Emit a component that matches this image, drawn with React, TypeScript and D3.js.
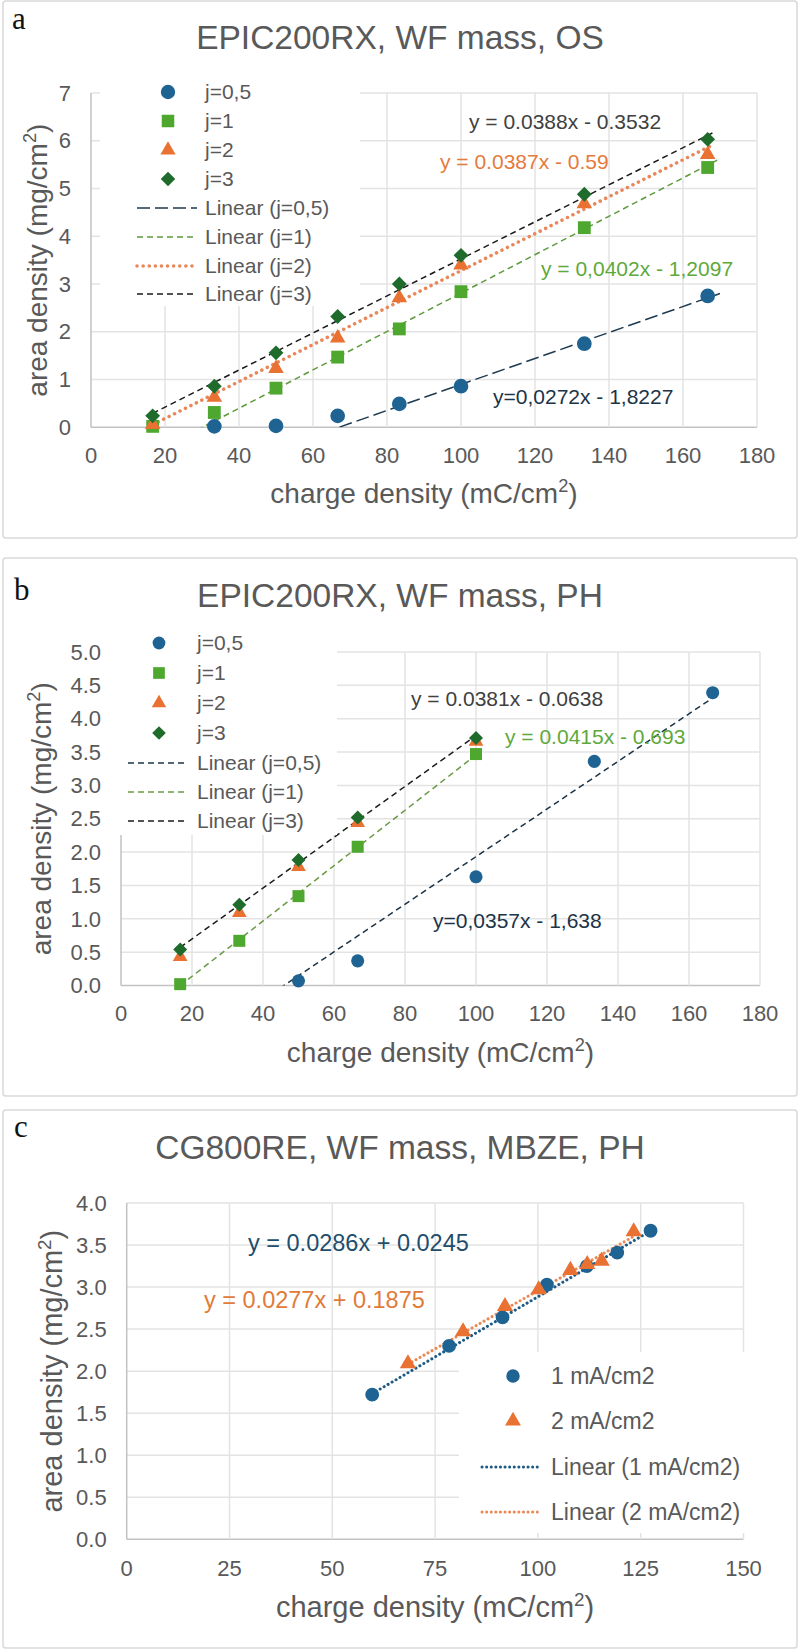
import * as d3 from 'd3'

const FONT = '"Liberation Sans", Arial, Helvetica, sans-serif'
const SERIF = '"Liberation Serif", "Times New Roman", serif'
const TEXT = '#595959'
const GRID = '#e3e3e3'
const AXIS = '#c2c2c2'
const FRAME = '#d9d9d9'

const BLUE = '#1f6392'
const GREEN = '#4ea72e'
const ORANGE = '#e97132'
const DKGREEN = '#1e6b2c'

// panel a: EPIC200RX, OS
const aCharge = [16.67, 33.33, 50, 66.67, 83.33, 100, 133.33, 166.67]
const aJ05 = [null, 0.02, 0.03, 0.24, 0.49, 0.86, 1.75, 2.75]
const aJ1 = [0.02, 0.31, 0.82, 1.47, 2.06, 2.84, 4.18, 5.44]
const aJ2 = [0.06, 0.63, 1.23, 1.87, 2.71, 3.4, 4.68, 5.71]
const aJ3 = [0.24, 0.86, 1.56, 2.32, 3.0, 3.6, 4.88, 6.03]
const aXTicks = [0, 20, 40, 60, 80, 100, 120, 140, 160, 180]
const aYTicks = [0, 1, 2, 3, 4, 5, 6, 7]

// panel b: EPIC200RX, PH
const bCharge = [16.67, 33.33, 50, 66.67, 100, 133.33, 166.67]
const bJ05 = [null, null, 0.07, 0.37, 1.63, 3.36, 4.39]
const bJ1 = [0.02, 0.67, 1.34, 2.08, 3.47, null, null]
const bJ2 = [0.43, 1.09, 1.78, 2.44, 3.66, null, null]
const bJ3 = [0.54, 1.21, 1.88, 2.52, 3.71, null, null]
const bXTicks = [0, 20, 40, 60, 80, 100, 120, 140, 160, 180]
const bYTicks = [0, 0.5, 1, 1.5, 2, 2.5, 3, 3.5, 4, 4.5, 5]

// panel c: CG800RE, MBZE, PH
const c1Charge = [59.7, 78.4, 91.4, 102.2, 111.9, 119.3, 127.4]
const c1Area = [1.72, 2.3, 2.64, 3.03, 3.25, 3.41, 3.67]
const c2Charge = [68.4, 81.8, 92.0, 100.2, 107.9, 112.0, 115.5, 123.3]
const c2Area = [2.09, 2.47, 2.77, 2.97, 3.2, 3.27, 3.31, 3.66]
const cXTicks = [0, 25, 50, 75, 100, 125, 150]
const cYTicks = [0, 0.5, 1, 1.5, 2, 2.5, 3, 3.5, 4]

type Marker = 'circle' | 'square' | 'triangle' | 'diamond'

interface Series {
  name: string
  marker: Marker
  color: string
  xs: number[]
  ys: (number | null)[]
}

interface Fit {
  name: string
  slope: number
  intercept: number
  from: number
  to: number
  color: string
  dash: string
  width: number
  round?: boolean
}

interface Equation {
  text: string
  color: string
  x: number
  y: number
}

const symbolType: Record<Marker, d3.SymbolType> = {
  circle: d3.symbolCircle,
  square: d3.symbolSquare,
  triangle: d3.symbolTriangle,
  diamond: (d3 as any).symbolDiamond2 || d3.symbolDiamond
}

const panelA = {
  frame: { x: 3, y: 1, w: 794, h: 537 },
  label: 'a', labelX: 12, labelY: 28.5,
  title: 'EPIC200RX, WF mass, OS', titleY: 49,
  plot: { left: 91, right: 757, top: 93, bottom: 427.3 },
  xDomain: [0, 180], yDomain: [0, 7], xTicks: aXTicks, yTicks: aYTicks, yFmt: d3.format('d'),
  xTickY: 455, xTitleY: 493, yTitleX: 47, axisFont: 28,
  sizes: { circle: 170, square: 165, triangle: 105, diamond: 140 } as Record<Marker, number>,
  series: [
    { name: 'j=0,5', marker: 'circle', color: BLUE, xs: aCharge, ys: aJ05 },
    { name: 'j=1', marker: 'square', color: GREEN, xs: aCharge, ys: aJ1 },
    { name: 'j=2', marker: 'triangle', color: ORANGE, xs: aCharge, ys: aJ2 },
    { name: 'j=3', marker: 'diamond', color: DKGREEN, xs: aCharge, ys: aJ3 }
  ] as Series[],
  fits: [
    { name: 'Linear (j=0,5)', slope: 0.0272, intercept: -1.8227, from: 16.67, to: 170, color: '#1d3a50', dash: '13 5', width: 1.5 },
    { name: 'Linear (j=1)', slope: 0.0402, intercept: -1.2097, from: 16.67, to: 170, color: '#5e9a3d', dash: '6 4', width: 1.5 },
    { name: 'Linear (j=2)', slope: 0.0387, intercept: -0.59, from: 16.67, to: 168, color: '#e8875a', dash: '0.1 6', width: 3.5, round: true },
    { name: 'Linear (j=3)', slope: 0.0388, intercept: -0.3532, from: 16.67, to: 168, color: '#1a1a1a', dash: '6 4', width: 1.5 }
  ] as Fit[],
  eqFont: 21,
  equations: [
    { text: 'y = 0.0388x - 0.3532', color: '#404040', x: 469, y: 122 },
    { text: 'y = 0.0387x - 0.59', color: '#e47b3c', x: 440, y: 162 },
    { text: 'y = 0,0402x - 1,2097', color: '#5ea93b', x: 541, y: 269 },
    { text: 'y=0,0272x - 1,8227', color: '#1b3447', x: 493, y: 397 }
  ] as Equation[],
  legend: {
    box: { x: 100, y: 78, w: 260, h: 228 },
    markerX: 168, lineX0: 137, lineX1: 197, textX: 205, font: 21,
    rows: [92, 121, 150, 179, 208, 237, 266, 294],
    items: [['s', 0], ['s', 1], ['s', 2], ['s', 3], ['f', 0], ['f', 1], ['f', 2], ['f', 3]] as [string, number][]
  }
}

const panelB = {
  frame: { x: 3, y: 558, w: 794, h: 538 },
  label: 'b', labelX: 14, labelY: 600,
  title: 'EPIC200RX, WF mass, PH', titleY: 607,
  plot: { left: 121, right: 760, top: 652, bottom: 985.5 },
  xDomain: [0, 180], yDomain: [0, 5], xTicks: bXTicks, yTicks: bYTicks, yFmt: d3.format('.1f'),
  xTickY: 1013, xTitleY: 1052, yTitleX: 51, axisFont: 28,
  sizes: { circle: 135, square: 144, triangle: 95, diamond: 125 } as Record<Marker, number>,
  series: [
    { name: 'j=0,5', marker: 'circle', color: BLUE, xs: bCharge, ys: bJ05 },
    { name: 'j=1', marker: 'square', color: GREEN, xs: bCharge, ys: bJ1 },
    { name: 'j=2', marker: 'triangle', color: ORANGE, xs: bCharge, ys: bJ2 },
    { name: 'j=3', marker: 'diamond', color: DKGREEN, xs: bCharge, ys: bJ3 }
  ] as Series[],
  fits: [
    { name: 'Linear (j=0,5)', slope: 0.0357, intercept: -1.638, from: 16.67, to: 166.67, color: '#1b3447', dash: '6 4', width: 1.5 },
    { name: 'Linear (j=1)', slope: 0.0415, intercept: -0.693, from: 16.67, to: 100, color: '#6a9a45', dash: '6 4', width: 1.5 },
    { name: 'Linear (j=3)', slope: 0.0381, intercept: -0.0638, from: 16.67, to: 100, color: '#1a1f1a', dash: '6 4', width: 1.5 }
  ] as Fit[],
  eqFont: 21,
  equations: [
    { text: 'y = 0.0381x - 0.0638', color: '#404040', x: 411, y: 699 },
    { text: 'y = 0.0415x - 0.693', color: '#5ea93b', x: 505, y: 737 },
    { text: 'y=0,0357x - 1,638', color: '#1b3447', x: 433, y: 921 }
  ] as Equation[],
  legend: {
    box: { x: 108, y: 628, w: 229, h: 207 },
    markerX: 159, lineX0: 128, lineX1: 187, textX: 197, font: 21,
    rows: [643, 673, 703, 733, 763, 792, 821],
    items: [['s', 0], ['s', 1], ['s', 2], ['s', 3], ['f', 0], ['f', 1], ['f', 2]] as [string, number][]
  }
}

const panelC = {
  frame: { x: 3, y: 1110, w: 794, h: 538 },
  label: 'c', labelX: 14, labelY: 1137,
  title: 'CG800RE, WF mass, MBZE, PH', titleY: 1159,
  plot: { left: 126.7, right: 743.5, top: 1203, bottom: 1539.3 },
  xDomain: [0, 150], yDomain: [0, 4], xTicks: cXTicks, yTicks: cYTicks, yFmt: d3.format('.1f'),
  xTickY: 1568, xTitleY: 1607, yTitleX: 62, axisFont: 29,
  sizes: { circle: 150, square: 144, triangle: 115, diamond: 125 } as Record<Marker, number>,
  series: [
    { name: '1 mA/cm2', marker: 'circle', color: BLUE, xs: c1Charge, ys: c1Area },
    { name: '2 mA/cm2', marker: 'triangle', color: ORANGE, xs: c2Charge, ys: c2Area }
  ] as Series[],
  fits: [
    { name: 'Linear (1 mA/cm2)', slope: 0.0286, intercept: 0.0245, from: 59.7, to: 127.4, color: '#1e5a84', dash: '0.1 4.5', width: 3, round: true },
    { name: 'Linear (2 mA/cm2)', slope: 0.0277, intercept: 0.1875, from: 68.4, to: 123.3, color: '#e88a55', dash: '0.1 4.5', width: 3, round: true }
  ] as Fit[],
  eqFont: 23.5,
  equations: [
    { text: 'y = 0.0286x + 0.0245', color: '#1e4e6c', x: 248, y: 1243 },
    { text: 'y = 0.0277x + 0.1875', color: '#e07b39', x: 204, y: 1300 }
  ] as Equation[],
  legend: {
    box: { x: 459, y: 1352, w: 289, h: 181 },
    markerX: 513, lineX0: 482, lineX1: 541, textX: 551, font: 23,
    rows: [1376, 1421, 1467, 1512],
    items: [['s', 0], ['s', 1], ['f', 0], ['f', 1]] as [string, number][]
  }
}

type PanelCfg = typeof panelA

function SupText({ base, sup, after, size }: { base: string; sup: string; after: string; size: number }) {
  const shift = size * 0.38
  return (
    <>
      {base}
      <tspan dy={-shift} fontSize={size * 0.65}>{sup}</tspan>
      <tspan dy={shift}>{after}</tspan>
    </>
  )
}

function Panel({ cfg, id }: { cfg: PanelCfg; id: string }) {
  const { plot, legend } = cfg
  const x = d3.scaleLinear().domain(cfg.xDomain).range([plot.left, plot.right])
  const y = d3.scaleLinear().domain(cfg.yDomain).range([plot.bottom, plot.top])
  const line = d3.line<number>().x(d => x(d)).y(() => 0)

  const sym = (m: Marker, scale = 1) => d3.symbol().type(symbolType[m]).size(cfg.sizes[m] * scale)()

  const fitPath = (f: Fit) =>
    d3.line<number>()
      .x(d => x(d))
      .y(d => y(f.slope * d + f.intercept))([f.from, f.to])

  const yMid = (plot.top + plot.bottom) / 2
  const xMid = (plot.left + plot.right) / 2

  return (
    <g>
      <rect x={cfg.frame.x} y={cfg.frame.y} width={cfg.frame.w} height={cfg.frame.h}
        rx={3} fill="#fff" stroke={FRAME} strokeWidth={1.5} />
      <text x={cfg.labelX} y={cfg.labelY} fontFamily={SERIF} fontSize={31} fill="#111">{cfg.label}</text>
      <text x={400} y={cfg.titleY} textAnchor="middle" fontFamily={FONT} fontSize={33.5} fill={TEXT}>{cfg.title}</text>

      <clipPath id={id}>
        <rect x={plot.left} y={plot.top} width={plot.right - plot.left} height={plot.bottom - plot.top} />
      </clipPath>

      {/* grid */}
      {cfg.yTicks.map(t => (
        <line key={'gy' + t} x1={plot.left} x2={plot.right} y1={y(t)} y2={y(t)} stroke={t === 0 ? AXIS : GRID} strokeWidth={1.5} />
      ))}
      {cfg.xTicks.map(t => (
        <line key={'gx' + t} x1={x(t)} x2={x(t)} y1={plot.top} y2={plot.bottom} stroke={t === 0 ? AXIS : GRID} strokeWidth={1.5} />
      ))}

      {/* tick labels */}
      {cfg.yTicks.map(t => (
        <text key={'ty' + t} x={plot.left - 20} y={y(t)} dy="0.35em" textAnchor="end"
          fontFamily={FONT} fontSize={22} fill={TEXT}>{cfg.yFmt(t)}</text>
      ))}
      {cfg.xTicks.map(t => (
        <text key={'tx' + t} x={x(t)} y={cfg.xTickY} dy="0.35em" textAnchor="middle"
          fontFamily={FONT} fontSize={22} fill={TEXT}>{t}</text>
      ))}

      {/* axis titles */}
      <text x={xMid} y={cfg.xTitleY} dy="0.35em" textAnchor="middle" fontFamily={FONT} fontSize={cfg.axisFont} fill={TEXT}>
        <SupText base="charge density (mC/cm" sup="2" after=")" size={cfg.axisFont} />
      </text>
      <text x={cfg.yTitleX} y={yMid} transform={`rotate(-90 ${cfg.yTitleX} ${yMid})`} textAnchor="middle"
        fontFamily={FONT} fontSize={cfg.axisFont} fill={TEXT}>
        <SupText base="area density (mg/cm" sup="2" after=")" size={cfg.axisFont} />
      </text>

      {/* trendlines */}
      <g clipPath={`url(#${id})`}>
        {cfg.fits.map(f => (
          <path key={f.name} d={fitPath(f) || ''} fill="none" stroke={f.color} strokeWidth={f.width}
            strokeDasharray={f.dash} strokeLinecap={f.round ? 'round' : 'butt'} />
        ))}
      </g>

      {/* markers */}
      {cfg.series.map(s => (
        <g key={s.name} fill={s.color}>
          {s.xs.map((xv, i) => {
            const yv = s.ys[i]
            if (yv == null) return null
            return <path key={i} d={sym(s.marker) || ''} transform={`translate(${x(xv)},${y(yv)})`} />
          })}
        </g>
      ))}

      {/* legend */}
      <rect x={legend.box.x} y={legend.box.y} width={legend.box.w} height={legend.box.h} fill="#fff" />
      {legend.items.map(([kind, idx], r) => {
        const ry = legend.rows[r]
        if (kind === 's') {
          const s = cfg.series[idx]
          return (
            <g key={'l' + r}>
              <path d={sym(s.marker, 0.95) || ''} transform={`translate(${legend.markerX},${ry})`} fill={s.color} />
              <text x={legend.textX} y={ry} dy="0.35em" fontFamily={FONT} fontSize={legend.font} fill={TEXT}>{s.name}</text>
            </g>
          )
        }
        const f = cfg.fits[idx]
        return (
          <g key={'l' + r}>
            <path d={line([legend.lineX0, legend.lineX1].map(v => x.invert(v))) || ''} transform={`translate(0,${ry})`}
              fill="none" stroke={f.color} strokeWidth={f.width} strokeDasharray={f.dash}
              strokeLinecap={f.round ? 'round' : 'butt'} />
            <text x={legend.textX} y={ry} dy="0.35em" fontFamily={FONT} fontSize={legend.font} fill={TEXT}>{f.name}</text>
          </g>
        )
      })}

      {/* equations */}
      {cfg.equations.map(e => (
        <text key={e.text} x={e.x} y={e.y} dy="0.35em" fontFamily={FONT} fontSize={cfg.eqFont} fill={e.color}>{e.text}</text>
      ))}
    </g>
  )
}

export default function App() {
  return (
    <svg width={800} height={1651} viewBox="0 0 800 1651"
      style={{ position: 'absolute', left: 0, top: 0, display: 'block', background: '#fff' }}>
      <Panel cfg={panelA} id="clipA" />
      <Panel cfg={panelB} id="clipB" />
      <Panel cfg={panelC} id="clipC" />
    </svg>
  )
}
